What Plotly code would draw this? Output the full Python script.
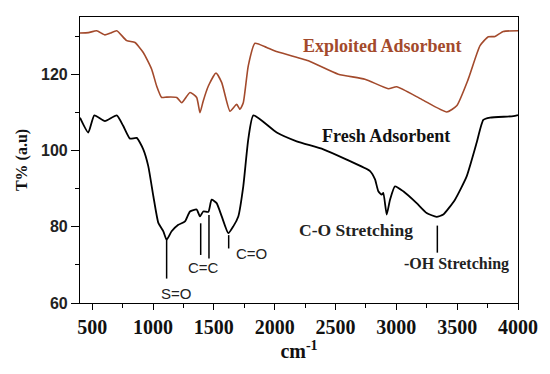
import plotly.graph_objects as go

# Exploited adsorbent spectrum
exp_wn = [400, 470, 537, 605, 650, 702, 784, 852, 920, 989, 1030, 1071, 1112, 1195, 1236, 1304,
          1359, 1386, 1413, 1455, 1518, 1565, 1633, 1688, 1715, 1742, 1783, 1838, 1934, 2003,
          2277, 2523, 2742, 2934, 3003, 3208, 3414, 3496, 3591, 3688, 3756, 3811, 3879, 4000]
exp_t = [130.8, 130.9, 131.4, 130.3, 130.8, 131.4, 128.8, 128.3, 125.7, 121.3, 116.9, 113.9, 114.0,
         113.9, 112.5, 115.2, 113.9, 109.9, 113.0, 116.9, 120.3, 117.8, 110.3, 112.1, 110.8, 112.5,
         122.2, 128.1, 127.0, 126.1, 123.5, 120.0, 118.7, 116.2, 116.7, 113.4, 110.1, 111.7,
         118.7, 127.5, 129.8, 129.9, 131.2, 131.4]

# Fresh adsorbent spectrum
fr_wn = [400, 468, 518, 605, 702, 756, 811, 866, 920, 961, 1003, 1044, 1085, 1112, 1153, 1208,
         1263, 1304, 1359, 1386, 1413, 1455, 1482, 1523, 1565, 1619, 1660, 1701, 1742, 1783,
         1825, 2017, 2181, 2400, 2592, 2784, 2825, 2852, 2880, 2893, 2921, 2948, 2989, 3057,
         3167, 3249, 3331, 3386, 3482, 3578, 3660, 3715, 3770, 3962, 4000]
fr_t = [108.6, 104.7, 109.2, 107.7, 109.2, 106.4, 103.1, 103.3, 100.3, 95.9, 88.0, 81.0, 78.8,
        76.6, 78.8, 80.5, 81.4, 84.0, 84.5, 82.7, 84.0, 83.9, 87.1, 86.2, 82.7, 78.3, 80.1,
        82.7, 90.6, 102.9, 109.2, 104.7, 102.4, 100.3, 97.6, 94.6, 92.4, 89.3, 88.4, 88.9,
        83.2, 87.1, 90.6, 89.3, 86.2, 83.6, 82.6, 83.2, 87.1, 93.2, 102.0, 108.0, 108.6,
        109.0, 109.3]

# Peak marker lines
peak_x = [1112, 1392, 1460, 1622, 3337]
peak_top = [76.6, 80.9, 83.1, 77.8, 80.3]
peak_bottom = [66.4, 72.6, 71.7, 74.3, 73.2]

# Labels
band_labels = ["S=O", "C=C", "C=O"]
band_x = [1189, 1419, 1810]
band_y = [62.4, 69.2, 73.0]
stretch_labels = ["C-O Stretching", "-OH Stretching"]
stretch_x = [2666, 3496]
stretch_y = [79.1, 70.2]
stretch_size = [17.5, 16]
series_labels = ["Exploited Adsorbent", "Fresh Adsorbent"]
series_label_x = [2890, 2915]
series_label_y = [127.4, 103.9]

x_ticks = [500, 1000, 1500, 2000, 2500, 3000, 3500, 4000]
y_ticks = [60, 80, 100, 120]

red = "#a34a2c"
fig = go.Figure()
fig.add_trace(go.Scatter(x=exp_wn, y=exp_t, mode="lines",
                         line=dict(color=red, width=1.6, shape="spline", smoothing=0.5)))
fig.add_trace(go.Scatter(x=fr_wn, y=fr_t, mode="lines",
                         line=dict(color="black", width=1.8, shape="spline", smoothing=0.5)))

for px, t0, t1 in zip(peak_x, peak_top, peak_bottom):
    fig.add_shape(type="line", x0=px, x1=px, y0=t0, y1=t1, xref="x", yref="y",
                  line=dict(color="black", width=1.5))

for txt, x, y in zip(band_labels, band_x, band_y):
    fig.add_annotation(x=x, y=y, text=txt, showarrow=False,
                       font=dict(family="Liberation Sans", size=15, color="#222"))
for txt, x, y, s in zip(stretch_labels, stretch_x, stretch_y, stretch_size):
    fig.add_annotation(x=x, y=y, text="<b>" + txt + "</b>", showarrow=False,
                       font=dict(family="Liberation Serif", size=s, color="#222"))
for txt, x, y, c in zip(series_labels, series_label_x, series_label_y, [red, "#111"]):
    fig.add_annotation(x=x, y=y, text="<b>" + txt + "</b>", showarrow=False,
                       font=dict(family="Liberation Serif", size=18, color=c))

fig.update_layout(
    width=550, height=374,
    margin=dict(l=80, r=32, t=17, b=71),
    paper_bgcolor="white", plot_bgcolor="white",
    showlegend=False,
    xaxis=dict(range=[400, 4000], tickvals=x_ticks, showgrid=False, zeroline=False,
               showline=True, linecolor="black", linewidth=1.2, mirror=True,
               ticks="outside", ticklen=6, tickcolor="black", tickwidth=1.2,
               minor=dict(dtick=250, tick0=250, ticks="outside", ticklen=4, tickcolor="black"),
               tickfont=dict(family="Liberation Serif", size=20, color="#111", weight="bold"),
               title=dict(text="<b>cm<sup>-1</sup></b>", standoff=4,
                          font=dict(family="Liberation Serif", size=20, color="#111"))),
    yaxis=dict(range=[60, 135], tickvals=y_ticks, showgrid=False, zeroline=False,
               showline=True, linecolor="black", linewidth=1.2, mirror=True,
               ticks="outside", ticklen=8, tickcolor="black", tickwidth=1.2,
               minor=dict(dtick=10, tick0=70, ticks="outside", ticklen=4, tickcolor="black"),
               tickfont=dict(family="Liberation Sans", size=16, color="#222", weight="bold"),
               title=dict(text="<b>T% (a.u)</b>", standoff=9,
                          font=dict(family="Liberation Serif", size=16, color="#111"))),
)

fig.write_html("out.html", config={"displayModeBar": False},
               post_script="document.body.style.margin='0';")
